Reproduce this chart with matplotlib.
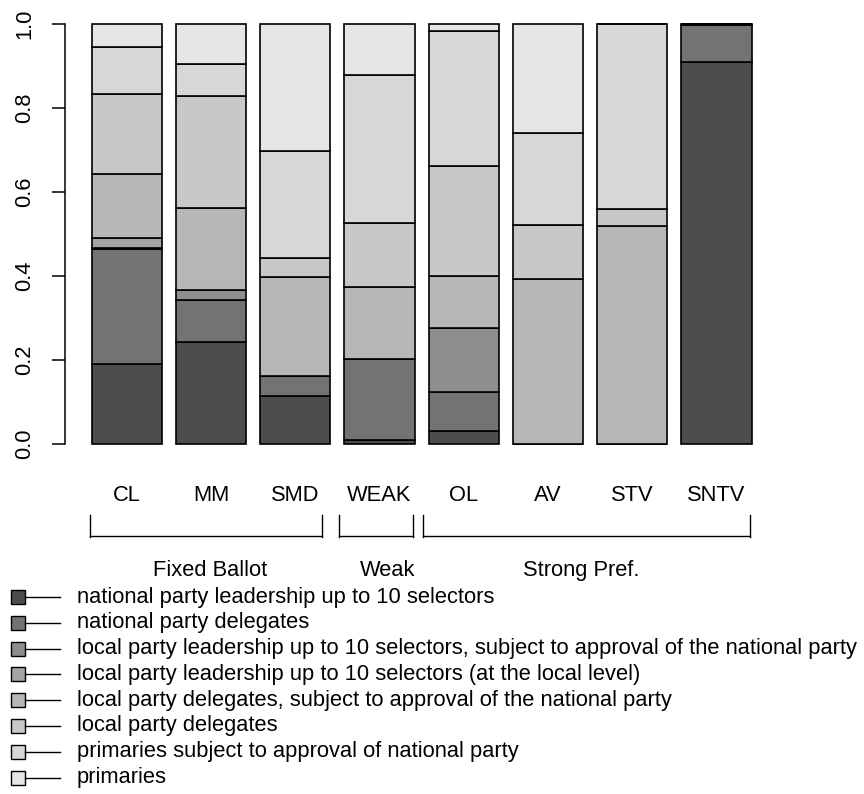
import numpy as np
import matplotlib
matplotlib.use("Agg")
import matplotlib.pyplot as plt
from matplotlib.patches import Rectangle
from matplotlib.lines import Line2D

plt.rcParams['font.family'] = ['Liberation Sans', 'DejaVu Sans']

systems = ['CL', 'MM', 'SMD', 'WEAK', 'OL', 'AV', 'STV', 'SNTV']
methods = ['national party leadership up to 10 selectors',
           'national party delegates',
           'local party leadership up to 10 selectors, subject to approval of the national party',
           'local party leadership up to 10 selectors (at the local level)',
           'local party delegates, subject to approval of the national party',
           'local party delegates',
           'primaries subject to approval of national party',
           'primaries']

# share of each selection method per system (bottom to top)
nat_lead   = [0.189, 0.243, 0.114, 0.008, 0.030, 0.0,   0.0,   0.909]
nat_del    = [0.274, 0.099, 0.048, 0.193, 0.092, 0.0,   0.0,   0.089]
loc_lead_a = [0.004, 0.024, 0.0,   0.0,   0.154, 0.0,   0.0,   0.002]
loc_lead   = [0.024, 0.0,   0.0,   0.0,   0.0,   0.0,   0.0,   0.0]
loc_del_a  = [0.152, 0.195, 0.234, 0.172, 0.123, 0.391, 0.519, 0.0]
loc_del    = [0.190, 0.268, 0.046, 0.152, 0.263, 0.130, 0.040, 0.0]
prim_a     = [0.111, 0.075, 0.256, 0.353, 0.322, 0.218, 0.441, 0.0]
prim       = [0.056, 0.096, 0.302, 0.122, 0.016, 0.261, 0.0,   0.0]

groups = ['Fixed Ballot', 'Weak', 'Strong Pref.']

series = [nat_lead, nat_del, loc_lead_a, loc_lead, loc_del_a, loc_del, prim_a, prim]
greys = ['#4D4D4D', '#737373', '#8E8E8E', '#A4A4A4',
         '#B7B7B7', '#C8C8C8', '#D7D7D7', '#E6E6E6']

W, H = 864, 794
fig = plt.figure(figsize=(W / 100, H / 100), dpi=100)
ax = fig.add_axes([65.3 / W, 1 - 460.3 / H, 712.6 / W, 453.1 / H])

# pick a font size so the longest legend line spans ~781 px, as in the original
probe = fig.text(0, 0, methods[2], fontsize=16)
fig.canvas.draw()
wpx = probe.get_window_extent().width
probe.remove()
fs = 16 * 781 / wpx

x = 0.2 + 1.2 * np.arange(len(systems))
bottom = np.zeros(len(systems))
for vals, col in zip(series, greys):
    vals = np.array(vals)
    ax.bar(x, vals, width=1.0, bottom=bottom, align='edge', color=col,
           edgecolor='black', linewidth=1.2)
    bottom += vals

ax.set_xlim(-0.176, 9.976)
ax.set_ylim(-0.04, 1.04)
for s in ['top', 'right', 'bottom']:
    ax.spines[s].set_visible(False)
ax.spines['left'].set_bounds(0, 1)
ax.spines['left'].set_linewidth(1.1)
ax.set_xticks([])
ax.set_yticks([0, 0.2, 0.4, 0.6, 0.8, 1.0])
ax.set_yticklabels(['0.0', '0.2', '0.4', '0.6', '0.8', '1.0'], rotation=90,
                   va='center', fontsize=fs)
ax.tick_params(axis='y', length=9.4, width=1.1, pad=12)

for xi, name in zip(x, systems):
    ax.text(xi + 0.5, -0.125, name, ha='center', va='center', fontsize=fs,
            clip_on=False)

# group brackets
brackets = [(0.176, 3.487), (3.729, 4.783), (4.926, 9.572)]
label_x = [1.89, 4.42, 7.17]
for (a, b), g, lx in zip(brackets, groups, label_x):
    ax.plot([a, b], [-0.2205, -0.2205], color='black', lw=1.0, clip_on=False)
    for e in (a, b):
        ax.plot([e, e], [-0.170, -0.222], color='black', lw=1.0, clip_on=False)
    ax.text(lx, -0.3015, g, ha='center', va='center', fontsize=fs, clip_on=False)

# legend drawn by hand, R style
for i, (lab, col) in enumerate(zip(methods, greys)):
    yc = 1 - (597 + 25.8 * i) / H
    fig.add_artist(Rectangle((11 / W, yc - 7 / H), 14 / W, 14 / H,
                             facecolor=col, edgecolor='black', lw=1.0,
                             transform=fig.transFigure))
    fig.add_artist(Line2D([25 / W, 60 / W], [yc, yc], color='black', lw=1.0,
                          transform=fig.transFigure))
    fig.text(77 / W, yc, lab, ha='left', va='center', fontsize=fs)

fig.savefig('out.png', dpi=100)
